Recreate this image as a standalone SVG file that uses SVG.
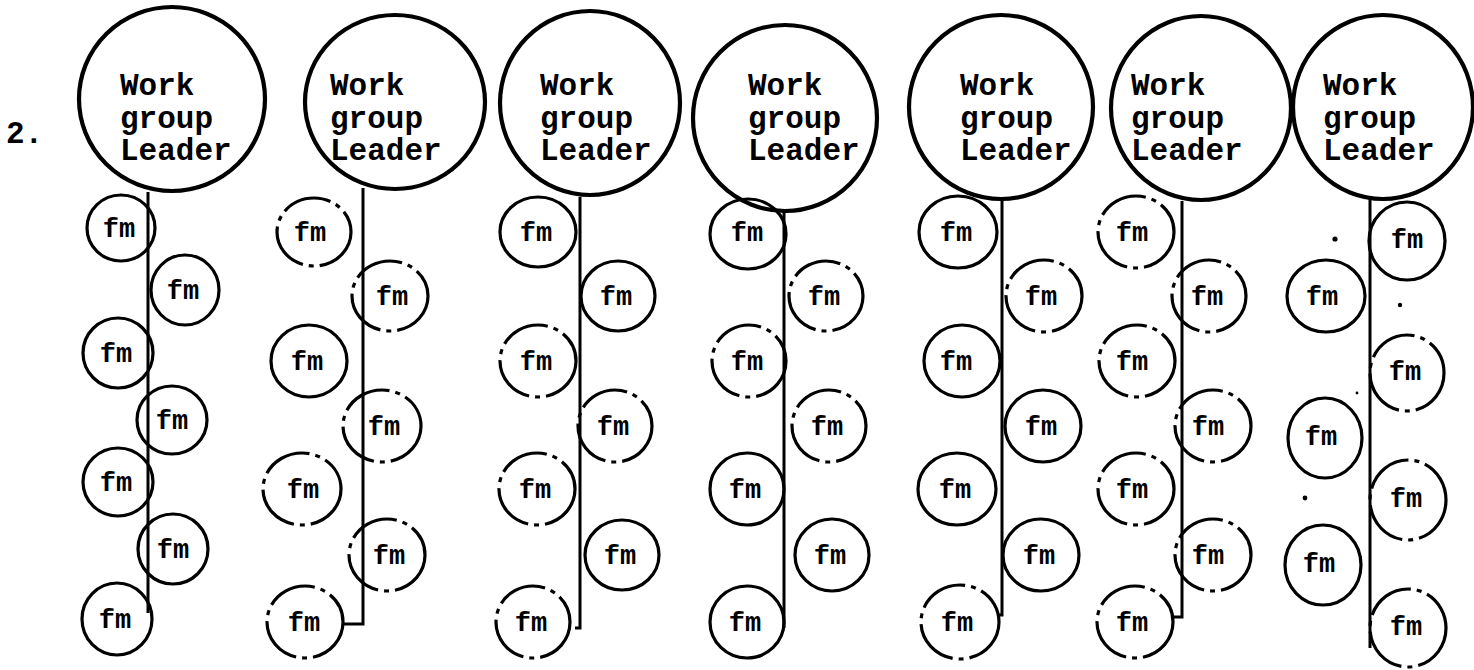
<svg xmlns="http://www.w3.org/2000/svg" width="1474" height="670" viewBox="0 0 1474 670">
<style>
.big{fill:none;stroke:#000;stroke-width:4.2}
.fmc{fill:none;stroke:#000;stroke-width:3.2}
.brk{stroke-dasharray:50 6 5 6}
.lead{font-family:"Liberation Mono","DejaVu Sans Mono",monospace;font-weight:bold;font-size:31px;fill:#000}
.fm{font-family:"Liberation Mono","DejaVu Sans Mono",monospace;font-weight:bold;font-size:27px;fill:#000;text-anchor:middle}
.ln{fill:none;stroke:#000;stroke-width:3}
</style>
<rect width="1474" height="670" fill="#fff"/>
<text class="lead" x="6" y="143">2.</text>

<g id="connectors">
<path class="ln" d="M148 192V613"/>
<path class="ln" d="M363 188V624H343"/>
<path class="ln" d="M580 197V628H575"/>
<path class="ln" d="M784 211V628"/>
<path class="ln" d="M1002 199V615H997"/>
<path class="ln" d="M1182 201V617H1173"/>
<path class="ln" d="M1370 199V648"/>
</g>

<g id="leader1"><ellipse class="big" cx="172" cy="99" rx="93" ry="92"/><text class="lead" x="120" y="95">Work</text><text class="lead" x="120" y="128">group</text><text class="lead" x="120" y="160">Leader</text></g>
<g id="leader2"><ellipse class="big" cx="395" cy="102" rx="90" ry="87"/><text class="lead" x="330" y="95">Work</text><text class="lead" x="330" y="128">group</text><text class="lead" x="330" y="160">Leader</text></g>
<g id="leader3"><ellipse class="big" cx="590" cy="103" rx="90" ry="92"/><text class="lead" x="540" y="95">Work</text><text class="lead" x="540" y="128">group</text><text class="lead" x="540" y="160">Leader</text></g>
<g id="leader4"><ellipse class="big" cx="785" cy="118" rx="92" ry="93"/><text class="lead" x="748" y="95">Work</text><text class="lead" x="748" y="128">group</text><text class="lead" x="748" y="160">Leader</text></g>
<g id="leader5"><ellipse class="big" cx="1001" cy="107" rx="92" ry="92"/><text class="lead" x="960" y="95">Work</text><text class="lead" x="960" y="128">group</text><text class="lead" x="960" y="160">Leader</text></g>
<g id="leader6"><ellipse class="big" cx="1201" cy="108" rx="90" ry="92"/><text class="lead" x="1131" y="95">Work</text><text class="lead" x="1131" y="128">group</text><text class="lead" x="1131" y="160">Leader</text></g>
<g id="leader7"><ellipse class="big" cx="1383" cy="107" rx="90" ry="92"/><text class="lead" x="1323" y="95">Work</text><text class="lead" x="1323" y="128">group</text><text class="lead" x="1323" y="160">Leader</text></g>

<!-- column 1 -->
<g id="c1-fm1"><ellipse class="fmc" cx="121" cy="228" rx="34" ry="33"/><text class="fm" x="119" y="237">fm</text></g>
<g id="c1-fm2"><ellipse class="fmc" cx="185" cy="290" rx="34" ry="35"/><text class="fm" x="183" y="299">fm</text></g>
<g id="c1-fm3"><ellipse class="fmc" cx="118" cy="353" rx="35" ry="35"/><text class="fm" x="116" y="362">fm</text></g>
<g id="c1-fm4"><ellipse class="fmc" cx="172" cy="420" rx="35" ry="34"/><text class="fm" x="172" y="429">fm</text></g>
<g id="c1-fm5"><ellipse class="fmc" cx="118" cy="482" rx="35" ry="34"/><text class="fm" x="116" y="491">fm</text></g>
<g id="c1-fm6"><ellipse class="fmc" cx="173" cy="549" rx="35" ry="35"/><text class="fm" x="173" y="558">fm</text></g>
<g id="c1-fm7"><ellipse class="fmc" cx="117" cy="619" rx="35" ry="36"/><text class="fm" x="115" y="628">fm</text></g>

<!-- column 2 -->
<g id="c2-fm1"><ellipse class="fmc brk" cx="314" cy="232" rx="37" ry="34"/><text class="fm" x="310" y="241">fm</text></g>
<g id="c2-fm2"><ellipse class="fmc brk" cx="390" cy="296" rx="38" ry="35"/><text class="fm" x="392" y="305">fm</text></g>
<g id="c2-fm3"><ellipse class="fmc" cx="309" cy="361" rx="38" ry="36"/><text class="fm" x="307" y="370">fm</text></g>
<g id="c2-fm4"><ellipse class="fmc brk" cx="382" cy="426" rx="39" ry="36"/><text class="fm" x="384" y="435">fm</text></g>
<g id="c2-fm5"><ellipse class="fmc brk" cx="302" cy="489" rx="39" ry="36"/><text class="fm" x="303" y="498">fm</text></g>
<g id="c2-fm6"><ellipse class="fmc brk" cx="387" cy="555" rx="38" ry="36"/><text class="fm" x="389" y="564">fm</text></g>
<g id="c2-fm7"><ellipse class="fmc brk" cx="305" cy="622" rx="38" ry="36"/><text class="fm" x="304" y="631">fm</text></g>

<!-- column 3 -->
<g id="c3-fm1"><ellipse class="fmc" cx="538" cy="232" rx="38" ry="35"/><text class="fm" x="536" y="241">fm</text></g>
<g id="c3-fm2"><ellipse class="fmc" cx="618" cy="296" rx="37" ry="35"/><text class="fm" x="616" y="305">fm</text></g>
<g id="c3-fm3"><ellipse class="fmc brk" cx="538" cy="361" rx="38" ry="36"/><text class="fm" x="536" y="370">fm</text></g>
<g id="c3-fm4"><ellipse class="fmc brk" cx="615" cy="426" rx="37" ry="36"/><text class="fm" x="613" y="435">fm</text></g>
<g id="c3-fm5"><ellipse class="fmc brk" cx="537" cy="489" rx="38" ry="36"/><text class="fm" x="535" y="498">fm</text></g>
<g id="c3-fm6"><ellipse class="fmc" cx="622" cy="555" rx="37" ry="35"/><text class="fm" x="620" y="564">fm</text></g>
<g id="c3-fm7"><ellipse class="fmc brk" cx="533" cy="622" rx="37" ry="36"/><text class="fm" x="531" y="631">fm</text></g>

<!-- column 4 -->
<g id="c4-fm1"><ellipse class="fmc" cx="748" cy="234" rx="38" ry="35"/><text class="fm" x="747" y="241">fm</text></g>
<g id="c4-fm2"><ellipse class="fmc brk" cx="826" cy="296" rx="37" ry="35"/><text class="fm" x="824" y="305">fm</text></g>
<g id="c4-fm3"><ellipse class="fmc brk" cx="749" cy="361" rx="37" ry="36"/><text class="fm" x="747" y="370">fm</text></g>
<g id="c4-fm4"><ellipse class="fmc brk" cx="829" cy="426" rx="37" ry="36"/><text class="fm" x="827" y="435">fm</text></g>
<g id="c4-fm5"><ellipse class="fmc" cx="747" cy="489" rx="37" ry="36"/><text class="fm" x="745" y="498">fm</text></g>
<g id="c4-fm6"><ellipse class="fmc" cx="832" cy="555" rx="37" ry="36"/><text class="fm" x="830" y="564">fm</text></g>
<g id="c4-fm7"><ellipse class="fmc" cx="747" cy="622" rx="37" ry="36"/><text class="fm" x="745" y="631">fm</text></g>

<!-- column 5 -->
<g id="c5-fm1"><ellipse class="fmc" cx="958" cy="232" rx="39" ry="36"/><text class="fm" x="956" y="241">fm</text></g>
<g id="c5-fm2"><ellipse class="fmc brk" cx="1044" cy="296" rx="38" ry="36"/><text class="fm" x="1041" y="305">fm</text></g>
<g id="c5-fm3"><ellipse class="fmc" cx="962" cy="361" rx="38" ry="36"/><text class="fm" x="956" y="370">fm</text></g>
<g id="c5-fm4"><ellipse class="fmc" cx="1043" cy="426" rx="38" ry="36"/><text class="fm" x="1041" y="435">fm</text></g>
<g id="c5-fm5"><ellipse class="fmc" cx="957" cy="489" rx="39" ry="36"/><text class="fm" x="955" y="498">fm</text></g>
<g id="c5-fm6"><ellipse class="fmc" cx="1041" cy="555" rx="38" ry="36"/><text class="fm" x="1039" y="564">fm</text></g>
<g id="c5-fm7"><ellipse class="fmc brk" cx="960" cy="622" rx="39" ry="37"/><text class="fm" x="957" y="631">fm</text></g>

<!-- column 6 -->
<g id="c6-fm1"><ellipse class="fmc brk" cx="1136" cy="232" rx="38" ry="36"/><text class="fm" x="1132" y="241">fm</text></g>
<g id="c6-fm2"><ellipse class="fmc brk" cx="1209" cy="296" rx="37" ry="36"/><text class="fm" x="1207" y="305">fm</text></g>
<g id="c6-fm3"><ellipse class="fmc brk" cx="1137" cy="361" rx="38" ry="36"/><text class="fm" x="1132" y="370">fm</text></g>
<g id="c6-fm4"><ellipse class="fmc brk" cx="1213" cy="426" rx="38" ry="36"/><text class="fm" x="1208" y="435">fm</text></g>
<g id="c6-fm5"><ellipse class="fmc brk" cx="1136" cy="489" rx="38" ry="36"/><text class="fm" x="1132" y="498">fm</text></g>
<g id="c6-fm6"><ellipse class="fmc brk" cx="1213" cy="555" rx="38" ry="36"/><text class="fm" x="1208" y="564">fm</text></g>
<g id="c6-fm7"><ellipse class="fmc brk" cx="1135" cy="622" rx="38" ry="36"/><text class="fm" x="1132" y="631">fm</text></g>

<!-- column 7 -->
<g id="c7-fm1"><ellipse class="fmc" cx="1407" cy="241" rx="38" ry="39"/><text class="fm" x="1407" y="248">fm</text></g>
<g id="c7-fm2"><ellipse class="fmc" cx="1326" cy="296" rx="39" ry="36"/><text class="fm" x="1322" y="305">fm</text></g>
<g id="c7-fm3"><ellipse class="fmc brk" cx="1407" cy="373" rx="37" ry="38"/><text class="fm" x="1405" y="380">fm</text></g>
<g id="c7-fm4"><ellipse class="fmc" cx="1325" cy="438" rx="37" ry="40"/><text class="fm" x="1321" y="445">fm</text></g>
<g id="c7-fm5"><ellipse class="fmc brk" cx="1408" cy="500" rx="38" ry="40"/><text class="fm" x="1406" y="507">fm</text></g>
<g id="c7-fm6"><ellipse class="fmc" cx="1323" cy="565" rx="38" ry="40"/><text class="fm" x="1319" y="572">fm</text></g>
<g id="c7-fm7"><ellipse class="fmc brk" cx="1408" cy="628" rx="38" ry="39"/><text class="fm" x="1406" y="635">fm</text></g>

<g id="specks" fill="#000">
<circle cx="1335" cy="239" r="2.6"/>
<circle cx="1400" cy="305" r="2.2"/>
<circle cx="1357" cy="393" r="1.4"/>
<circle cx="1305" cy="498" r="2.4"/>
</g>
</svg>
